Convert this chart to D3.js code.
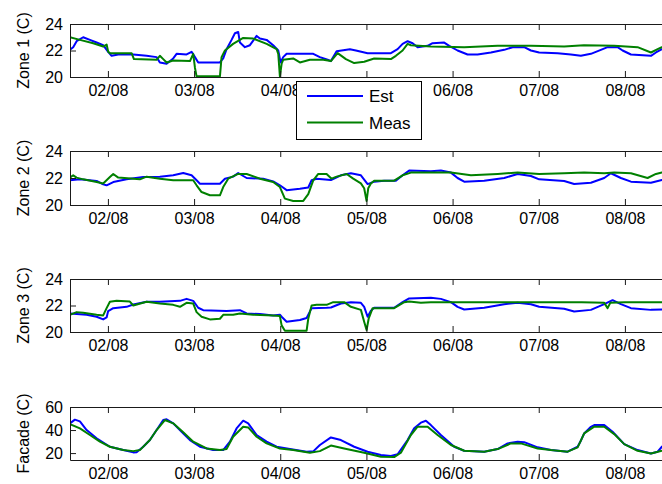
<!DOCTYPE html>
<html>
<head>
<meta charset="utf-8">
<script src="https://cdn.jsdelivr.net/npm/d3@7"></script>
<style>
  body { margin: 0; background: #fff; }
  svg { display: block; }
  text { font-family: "Liberation Sans", Arial, Helvetica, sans-serif; fill: #000; }
</style>
</head>
<body>
<svg id="chart" width="662" height="484"></svg>
<script>
// Time axis: day of month (August), labelled dd/mm
const dayTicks = [2, 3, 4, 5, 6, 7, 8];
const dayTickLabels = ["02/08", "03/08", "04/08", "05/08", "06/08", "07/08", "08/08"];
const zoneTicks = [20, 22, 24];
const facadeTicks = [20, 40, 60];
const seriesNames = ["Est", "Meas"];

// [day, temperature °C]
const zone1Est = [[1.559,22.05],[1.597,22.25],[1.637,22.7],[1.713,23.0],[1.791,22.8],[1.869,22.6],[1.945,22.4],[2.003,21.9],[2.043,21.6],[2.12,21.7],[2.294,21.7],[2.449,21.6],[2.565,21.5],[2.603,21.1],[2.681,21.0],[2.758,21.4],[2.797,21.75],[2.913,21.7],[2.971,21.9],[3.01,21.5],[3.048,21.1],[3.30,21.1],[3.338,21.4],[3.377,22.1],[3.435,22.8],[3.474,23.3],[3.512,23.4],[3.532,22.6],[3.59,22.25],[3.648,22.4],[3.726,23.1],[3.764,22.9],[3.842,22.8],[3.918,22.4],[3.977,22.0],[4.004,21.1],[4.034,21.5],[4.074,21.75],[4.228,21.75],[4.383,21.75],[4.46,21.5],[4.55,21.3],[4.588,21.2],[4.654,21.95],[4.808,22.1],[4.878,22.0],[5.014,21.8],[5.284,21.8],[5.362,22.1],[5.42,22.5],[5.478,22.7],[5.536,22.55],[5.594,22.25],[5.71,22.35],[5.768,22.55],[5.903,22.6],[5.961,22.35],[6.058,22.0],[6.174,21.7],[6.29,21.7],[6.445,21.85],[6.599,22.05],[6.697,22.25],[6.831,22.25],[6.909,22.0],[7.005,21.85],[7.219,21.8],[7.373,21.7],[7.489,21.6],[7.605,21.75],[7.721,22.05],[7.799,22.25],[7.915,22.25],[7.973,22.0],[8.07,21.7],[8.302,21.6],[8.36,21.85],[8.429,22.1],[8.5,22.2]];
const zone1Meas = [[1.559,23.0],[1.675,22.8],[1.829,22.55],[1.945,22.3],[1.985,22.45],[2.003,21.9],[2.023,21.8],[2.275,21.8],[2.302,21.35],[2.565,21.3],[2.603,21.6],[2.642,21.35],[2.681,21.1],[2.758,21.25],[2.952,21.2],[2.99,21.75],[3.01,20.7],[3.029,20.05],[3.30,20.05],[3.319,21.5],[3.358,22.0],[3.453,22.5],[3.57,22.95],[3.686,22.9],[3.842,22.5],[3.958,22.1],[3.977,21.75],[3.996,20.05],[4.016,21.0],[4.034,21.3],[4.15,21.4],[4.228,21.1],[4.344,21.3],[4.499,21.3],[4.588,21.2],[4.666,21.8],[4.762,21.35],[4.858,21.05],[4.974,21.15],[5.09,21.4],[5.284,21.35],[5.342,21.6],[5.42,22.0],[5.478,22.5],[5.516,22.4],[5.748,22.3],[6.135,22.25],[6.523,22.35],[6.909,22.35],[7.295,22.3],[7.524,22.4],[7.876,22.35],[8.147,22.25],[8.302,21.85],[8.38,22.1],[8.429,22.25],[8.5,22.25]];

const zone2Est = [[1.559,21.83],[1.675,21.9],[1.869,21.78],[1.945,21.53],[1.985,21.46],[2.062,21.7],[2.217,21.9],[2.41,22.07],[2.603,22.1],[2.758,22.2],[2.874,22.37],[2.971,22.2],[3.029,21.83],[3.068,21.58],[3.30,21.58],[3.358,21.95],[3.453,22.1],[3.512,22.37],[3.61,22.0],[3.802,21.95],[3.918,21.75],[3.996,21.46],[4.074,21.1],[4.228,21.2],[4.325,21.3],[4.364,21.83],[4.422,21.95],[4.588,21.85],[4.704,22.2],[4.82,22.35],[4.936,22.2],[5.014,21.55],[5.09,21.73],[5.206,21.8],[5.342,21.8],[5.42,22.2],[5.496,22.55],[5.748,22.5],[5.864,22.55],[5.981,22.4],[6.058,22.0],[6.135,21.73],[6.367,21.8],[6.599,22.0],[6.755,22.3],[6.909,22.15],[7.005,21.9],[7.295,21.78],[7.411,21.55],[7.605,21.65],[7.76,22.0],[7.837,22.35],[7.953,22.0],[8.07,21.73],[8.302,21.65],[8.429,21.85],[8.5,21.9]];
const zone2Meas = [[1.559,22.03],[1.597,22.2],[1.637,22.03],[1.713,21.9],[1.869,21.7],[1.945,21.6],[2.023,22.07],[2.062,22.3],[2.12,22.03],[2.371,21.9],[2.449,22.1],[2.603,21.95],[2.758,21.83],[2.99,21.83],[3.029,21.46],[3.087,20.96],[3.184,20.72],[3.30,20.72],[3.338,21.33],[3.396,21.95],[3.512,22.3],[3.61,22.3],[3.764,21.95],[3.918,21.7],[3.996,21.33],[4.054,20.47],[4.15,20.3],[4.267,20.3],[4.325,20.8],[4.383,21.83],[4.441,22.3],[4.538,22.3],[4.596,21.95],[4.654,22.1],[4.77,22.3],[4.847,21.95],[4.936,21.6],[4.974,21.24],[5.002,20.3],[5.021,21.24],[5.052,21.6],[5.09,21.8],[5.322,21.8],[5.42,22.2],[5.516,22.4],[5.981,22.4],[6.213,22.2],[6.523,22.3],[6.755,22.4],[7.005,22.3],[7.295,22.35],[7.527,22.4],[7.76,22.35],[7.876,22.4],[8.07,22.35],[8.263,22.0],[8.36,22.3],[8.429,22.4],[8.5,22.4]];

const zone3Est = [[1.559,21.4],[1.753,21.3],[1.869,21.15],[1.945,20.95],[1.985,21.1],[2.003,21.58],[2.062,21.8],[2.217,21.9],[2.294,22.08],[2.449,22.28],[2.603,22.28],[2.836,22.35],[2.913,22.5],[2.99,22.35],[3.048,21.83],[3.106,21.65],[3.377,21.58],[3.532,21.65],[3.61,21.4],[3.764,21.35],[3.918,21.25],[3.996,21.3],[4.016,21.15],[4.074,20.77],[4.228,20.9],[4.306,21.06],[4.364,21.8],[4.538,21.83],[4.588,21.85],[4.704,22.15],[4.82,22.25],[4.936,22.2],[4.974,21.9],[5.014,21.15],[5.052,21.6],[5.09,21.83],[5.322,21.83],[5.42,22.25],[5.496,22.53],[5.748,22.58],[5.864,22.5],[5.981,22.25],[6.058,21.9],[6.135,21.7],[6.367,21.83],[6.599,22.1],[6.755,22.2],[6.909,22.1],[7.005,21.9],[7.295,21.75],[7.411,21.55],[7.605,21.67],[7.76,22.1],[7.857,22.4],[7.953,22.1],[8.07,21.8],[8.302,21.67],[8.429,21.7],[8.5,21.7]];
const zone3Meas = [[1.559,21.3],[1.637,21.5],[1.713,21.45],[1.869,21.3],[1.945,21.25],[1.985,21.8],[2.023,22.28],[2.101,22.35],[2.255,22.3],[2.294,22.0],[2.449,22.28],[2.603,22.15],[2.758,22.05],[2.836,21.9],[2.913,22.2],[2.99,22.15],[3.029,21.5],[3.087,21.15],[3.184,20.95],[3.30,21.0],[3.338,21.3],[3.453,21.3],[3.532,21.4],[3.686,21.3],[3.918,21.25],[3.996,21.2],[4.016,20.5],[4.054,20.1],[4.306,20.1],[4.325,21.0],[4.364,22.0],[4.422,22.05],[4.538,22.05],[4.615,22.25],[4.742,22.25],[4.82,21.9],[4.936,21.67],[4.974,20.77],[5.002,20.15],[5.026,21.0],[5.072,21.8],[5.322,21.8],[5.439,22.25],[5.496,22.3],[5.632,22.2],[5.748,22.25],[6.135,22.25],[6.5,22.25],[7.0,22.25],[7.5,22.25],[7.76,22.2],[7.799,21.8],[7.83,22.2],[8.0,22.25],[8.5,22.25]];

const facadeEst = [[1.559,45.8],[1.617,49.0],[1.675,47.5],[1.753,40],[1.869,32.8],[2.023,25.5],[2.178,22.6],[2.294,20.6],[2.333,20.8],[2.41,25.5],[2.487,31.3],[2.565,40],[2.642,48.7],[2.681,49.3],[2.758,45.8],[2.855,38.5],[2.952,31.3],[3.068,25.5],[3.222,22.6],[3.338,22.6],[3.416,29.9],[3.493,41.4],[3.57,48.1],[3.628,45.8],[3.726,35.7],[3.842,29.9],[3.958,25.5],[4.112,23.5],[4.306,21.2],[4.383,21.5],[4.46,27],[4.588,33.6],[4.704,31.3],[4.858,25.5],[5.014,21.2],[5.168,18.3],[5.284,17.4],[5.362,19],[5.478,31.3],[5.554,41.5],[5.632,46.4],[5.69,48.1],[5.748,44.3],[5.864,35.7],[6.019,25.5],[6.135,22.0],[6.367,21.2],[6.523,23.5],[6.639,28.4],[6.755,29.9],[6.831,29.5],[6.987,25],[7.141,22.6],[7.335,21.2],[7.451,25.5],[7.49,31],[7.527,37],[7.6,42.5],[7.644,44.3],[7.76,44.3],[7.857,38.5],[7.992,27.8],[8.147,22.6],[8.302,19.7],[8.38,21.2],[8.429,25.5],[8.5,28]];
const facadeMeas = [[1.559,45.2],[1.675,41.4],[1.791,35.7],[1.907,29.9],[2.023,25.5],[2.178,22.6],[2.294,21.7],[2.371,22.6],[2.487,31.3],[2.565,40],[2.661,48.7],[2.758,45.8],[2.874,38],[2.99,29.9],[3.145,24],[3.30,22.6],[3.377,23.5],[3.453,34.2],[3.57,42.9],[3.628,42.3],[3.726,34.2],[3.842,28.4],[3.996,24],[4.15,22.6],[4.344,20.3],[4.46,21.7],[4.588,26.5],[4.742,24],[4.974,20.3],[5.168,16.8],[5.322,16.5],[5.40,20.3],[5.516,35.7],[5.594,42.9],[5.71,42.9],[5.826,35.7],[5.981,27],[6.135,22],[6.367,21.2],[6.523,23.5],[6.677,28.4],[6.793,28.4],[6.987,24],[7.141,22.6],[7.335,21.2],[7.451,25],[7.49,31],[7.527,37.1],[7.644,42.9],[7.76,42.9],[7.876,36.5],[7.992,27.8],[8.147,22],[8.302,19.7],[8.429,22],[8.5,24]];

const colors = { Est: "#0000ff", Meas: "#008000" };

// The legend box sits over the first panel's tick labels; labels it would hide are skipped there.
const panels = [
  { label: "Zone 1 (C)", est: zone1Est, meas: zone1Meas, domain: [20, 24], ticks: zoneTicks, top: 24,  bottom: 77,  hideLabels: ["05/08"] },
  { label: "Zone 2 (C)", est: zone2Est, meas: zone2Meas, domain: [20, 24], ticks: zoneTicks, top: 151, bottom: 205, hideLabels: [] },
  { label: "Zone 3 (C)", est: zone3Est, meas: zone3Meas, domain: [20, 24], ticks: zoneTicks, top: 279, bottom: 332, hideLabels: [] },
  { label: "Facade (C)", est: facadeEst, meas: facadeMeas, domain: [14, 60], ticks: facadeTicks, top: 407, bottom: 460, hideLabels: [] }
];

const svg = d3.select("#chart");
const left = 70, right = 668;
const x = d3.scaleLinear().domain([1.56, 8.5]).range([left, right]);
const tickLen = 6;
const axisColor = "#1a1a1a";

panels.forEach((p, i) => {
  const y = d3.scaleLinear().domain(p.domain).range([p.bottom, p.top]);
  const g = svg.append("g");

  const clipId = "clip" + i;
  svg.append("clipPath").attr("id", clipId)
    .append("rect").attr("x", left).attr("y", p.top - 1)
    .attr("width", right - left).attr("height", p.bottom - p.top + 2);

  const line = d3.line().x(d => x(d[0])).y(d => y(d[1]));
  const plot = g.append("g").attr("clip-path", `url(#${clipId})`);
  [["Est", p.est], ["Meas", p.meas]].forEach(([name, data]) => {
    plot.append("path").datum(data)
      .attr("fill", "none")
      .attr("stroke", colors[name])
      .attr("stroke-width", 2)
      .attr("stroke-linejoin", "round")
      .attr("d", line);
  });

  const xb = d3.axisBottom(x).tickValues(dayTicks)
    .tickFormat((d, k) => p.hideLabels.includes(dayTickLabels[k]) ? "" : dayTickLabels[k])
    .tickSizeInner(-tickLen).tickSizeOuter(0).tickPadding(8);
  const xt = d3.axisTop(x).tickValues(dayTicks).tickFormat("")
    .tickSizeInner(-tickLen).tickSizeOuter(0);
  const yl = d3.axisLeft(y).tickValues(p.ticks).tickFormat(d3.format("d"))
    .tickSizeInner(-tickLen).tickSizeOuter(0).tickPadding(7);

  const gb = g.append("g").attr("transform", `translate(0,${p.bottom})`).call(xb);
  const gt = g.append("g").attr("transform", `translate(0,${p.top})`).call(xt);
  const gl = g.append("g").attr("transform", `translate(${left},0)`).call(yl);

  [gb, gt, gl].forEach(a => {
    a.selectAll("path.domain").attr("stroke", axisColor).attr("stroke-width", 1);
    a.selectAll(".tick line").attr("stroke", axisColor).attr("stroke-width", 1);
    a.selectAll(".tick text").attr("fill", "#000")
      .style("font-size", "16px")
      .style("font-family", '"Liberation Sans", Arial, sans-serif');
    a.attr("font-family", null).attr("font-size", null);
  });

  g.append("text")
    .attr("transform", `translate(29,${(p.top + p.bottom) / 2}) rotate(-90)`)
    .attr("text-anchor", "middle")
    .style("font-size", "16px")
    .text(p.label);
});

// Legend over the first panel's lower edge
const legend = svg.append("g").attr("transform", "translate(296,81)");
legend.append("rect").attr("x", 0.5).attr("y", 0.5)
  .attr("width", 125).attr("height", 58)
  .attr("fill", "#fff").attr("stroke", "#000").attr("stroke-width", 1);
seriesNames.forEach((name, k) => {
  const ly = 15 + k * 26.5;
  legend.append("line")
    .attr("x1", 11).attr("x2", 67).attr("y1", ly).attr("y2", ly)
    .attr("stroke", colors[name]).attr("stroke-width", 2);
  legend.append("text")
    .attr("x", 73).attr("y", ly + 6)
    .style("font-size", "17px")
    .text(name);
});
</script>
</body>
</html>
